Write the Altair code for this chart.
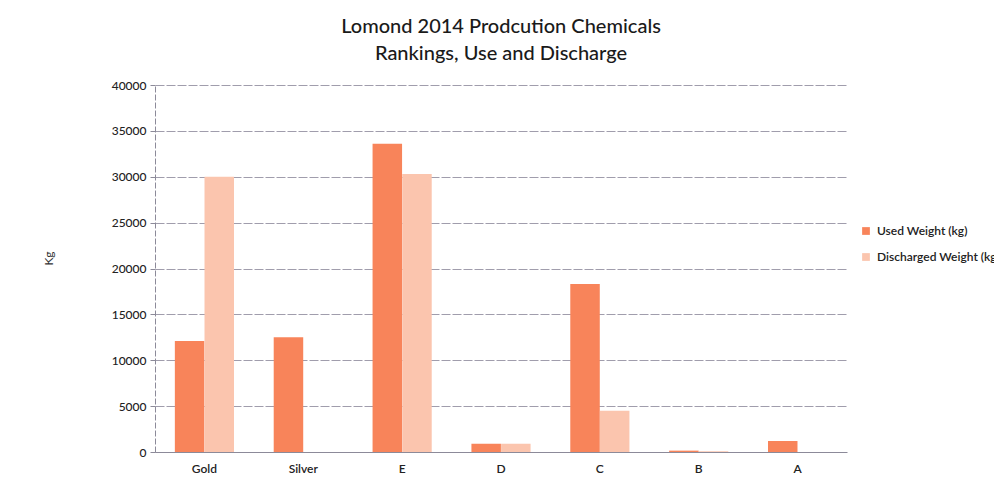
import altair as alt
import pandas as pd

# Chemicals in ranking order, with used and discharged weights (kg)
chemicals = ["Gold", "Silver", "E", "D", "C", "B", "A"]
used_kg = [12100, 12500, 33600, 900, 18300, 150, 1200]
discharged_kg = [30000, 0, 30300, 900, 4500, 80, 0]
series = ["Used Weight (kg)", "Discharged Weight (kg)"]
y_ticks = [0, 5000, 10000, 15000, 20000, 25000, 30000, 35000, 40000]

rows = []
for name, u, d in zip(chemicals, used_kg, discharged_kg):
    rows.append({"chemical": name, "series": series[0], "kg": u})
    rows.append({"chemical": name, "series": series[1], "kg": d})
df = pd.DataFrame(rows)

font = "Lato"

bars = alt.Chart(df).mark_bar(size=29.5).encode(
    x=alt.X(
        "chemical:N",
        sort=chemicals,
        title=None,
        scale=alt.Scale(paddingInner=0.4, paddingOuter=0.2),
        axis=alt.Axis(
            labelAngle=0, labelFont=font, labelFontSize=12, labelFontWeight=600,
            labelColor="#222222", labelPadding=11, ticks=False,
            domainColor="#8c8a99", domainWidth=1, grid=False,
        ),
    ),
    xOffset=alt.XOffset("series:N", sort=series),
    y=alt.Y(
        "kg:Q",
        title="Kg",
        scale=alt.Scale(domain=[0, 40000], nice=False),
        axis=alt.Axis(
            values=y_ticks, format="d", labelFont=font, labelFontSize=12,
            labelFontWeight=500, labelColor="#222222", labelPadding=4,
            tickSize=5, tickColor="#8c8a99",
            domainColor="#8c8a99", domainDash=[6, 2], grid=True,
            gridColor="#8f8c9e", gridDash=[9, 2], gridWidth=1, gridOpacity=0.85,
            titleFont=font, titleFontSize=12, titleFontWeight="normal",
            titleColor="#333333", titleX=-107, titleY=173, titleAngle=270,
            titleAlign="center", titleBaseline="middle",
        ),
    ),
    color=alt.Color(
        "series:N",
        sort=series,
        scale=alt.Scale(domain=series, range=["#f8845a", "#fbc5ae"]),
        legend=alt.Legend(
            title=None, orient="none", legendX=705, legendY=140,
            symbolType="square", symbolSize=60, symbolStrokeWidth=0,
            labelFont=font, labelFontSize=12, labelFontWeight=600,
            labelColor="#222222", rowPadding=14, labelOffset=5,
        ),
    ),
)

chart = bars.properties(
    width=692,
    height=367,
    padding={"left": 155, "top": 85, "right": 147, "bottom": 29},
    autosize=alt.AutoSizeParams(type="none"),
    background="white",
    title=alt.TitleParams(
        text=["Lomond 2014 Prodcution Chemicals", "Rankings, Use and Discharge"],
        font=font, fontSize=20, fontWeight=500, color="#1a1a1a",
        anchor="middle", lineHeight=27, offset=15,
    ),
).configure_view(stroke=None)

chart.save("out.html", embed_options={"renderer": "svg", "actions": False})
